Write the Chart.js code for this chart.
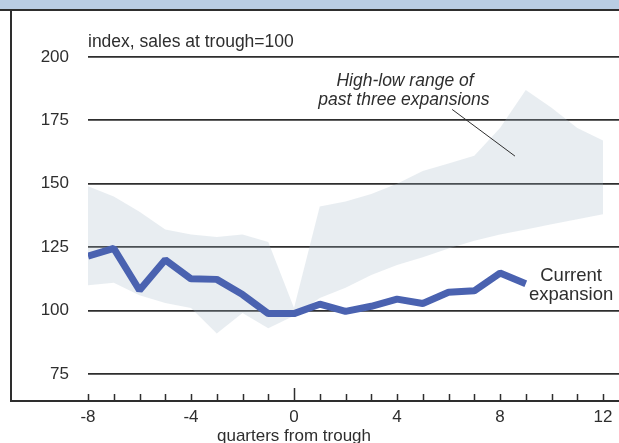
<!DOCTYPE html>
<html>
<head>
<meta charset="utf-8">
<script src="https://cdn.jsdelivr.net/npm/chart.js@4/dist/chart.umd.min.js"></script>
<style>
    html, body { margin: 0; padding: 0; background: #ffffff; }
    canvas { display: block; }
</style>
</head>
<body>
<canvas id="salesChart" width="619" height="443"></canvas>
<script>
// quarters from trough
const quarters = [-8, -7, -6, -5, -4, -3, -2, -1, 0, 1, 2, 3, 4, 5, 6, 7, 8, 9, 10, 11, 12];
// high-low range of past three expansions
const rangeHigh = [149, 145, 139, 132, 130, 129, 130, 127, 101, 141, 143, 146, 150, 155, 158, 161, 172, 187, 180, 172, 167];
const rangeLow = [110, 111, 106, 103, 101, 91, 99, 93, 98, 105, 109, 114, 118, 121, 124.5, 127.5, 130, 132, 134, 136, 138];
// current expansion (runs to quarter 9)
const currentSales = [121.5, 124.5, 108, 120, 112.5, 112.3, 106.3, 98.8, 98.8, 102.5, 99.7, 101.7, 104.5, 102.8, 107.2, 107.8, 114.8, 110.6];

const xTickValues = [-8, -4, 0, 4, 8, 12];
const yTickValues = [75, 100, 125, 150, 175, 200];

const inkColor = '#2e2e2e';
const font = '"Liberation Sans", Arial, Helvetica, sans-serif';

function toPoints(values) {
    return values.map(function (v, i) { return { x: quarters[i], y: v }; });
}

// frame, banner, inward tick marks and the text notes
const framePlugin = {
    id: 'frame',
    beforeDraw: function (chart) {
        const ctx = chart.ctx;
        const area = chart.chartArea;
        ctx.save();
        ctx.fillStyle = '#ffffff';
        ctx.fillRect(0, 0, chart.width, chart.height);
        ctx.fillStyle = '#b9cde4';
        ctx.fillRect(0, 0, chart.width, area.top - 1);
        ctx.strokeStyle = inkColor;
        ctx.lineWidth = 2;
        ctx.beginPath();
        ctx.moveTo(0, area.top);
        ctx.lineTo(chart.width, area.top);
        ctx.moveTo(11, area.top);
        ctx.lineTo(11, area.bottom);
        ctx.lineTo(chart.width, area.bottom);
        ctx.stroke();
        ctx.restore();
    },
    afterDraw: function (chart) {
        const ctx = chart.ctx;
        const area = chart.chartArea;
        const xs = chart.scales.x;
        const ys = chart.scales.y;
        ctx.save();
        ctx.strokeStyle = inkColor;
        ctx.lineWidth = 1.5;
        ctx.beginPath();
        for (let q = -8; q <= 12; q++) {
            const px = Math.round(xs.getPixelForValue(q)) + 0.5;
            ctx.moveTo(px, area.bottom);
            ctx.lineTo(px, area.bottom - (q === 0 ? 13 : 7));
        }
        ctx.stroke();

        ctx.fillStyle = inkColor;
        ctx.textBaseline = 'middle';
        ctx.font = '17.5px ' + font;
        ctx.textAlign = 'left';
        ctx.fillText('index, sales at trough=100', area.left, 42);

        ctx.textAlign = 'center';
        ctx.font = '17px ' + font;
        ctx.fillText('quarters from trough', xs.getPixelForValue(0), 436);
        ctx.font = '18.5px ' + font;
        ctx.fillText('Current', xs.getPixelForValue(10.76), ys.getPixelForValue(113.8));
        ctx.fillText('expansion', xs.getPixelForValue(10.76), ys.getPixelForValue(106.3));

        ctx.font = 'italic 17.5px ' + font;
        ctx.fillText('High-low range of', xs.getPixelForValue(4.31), ys.getPixelForValue(190.5));
        ctx.fillText('past three expansions', xs.getPixelForValue(4.27), ys.getPixelForValue(183));

        ctx.lineWidth = 1;
        ctx.beginPath();
        ctx.moveTo(xs.getPixelForValue(6.14), ys.getPixelForValue(179.3));
        ctx.lineTo(xs.getPixelForValue(8.58), ys.getPixelForValue(160.9));
        ctx.stroke();
        ctx.restore();
    }
};

new Chart(document.getElementById('salesChart'), {
    type: 'line',
    data: {
        datasets: [{
            label: 'High',
            data: toPoints(rangeHigh),
            order: 2,
            borderWidth: 0,
            pointRadius: 0,
            backgroundColor: 'rgba(165, 182, 198, 0.25)',
            fill: '+1',
            tension: 0
        }, {
            label: 'Low',
            data: toPoints(rangeLow),
            order: 3,
            borderWidth: 0,
            pointRadius: 0,
            fill: false,
            tension: 0
        }, {
            label: 'Current expansion',
            data: toPoints(currentSales),
            order: 0,
            borderColor: '#4a62b0',
            borderWidth: 7,
            borderJoinStyle: 'bevel',
            pointRadius: 0,
            fill: false,
            tension: 0
        }]
    },
    options: {
        responsive: false,
        animation: false,
        devicePixelRatio: 1,
        layout: { padding: { top: 10, right: 0, left: 0, bottom: 0 } },
        plugins: {
            legend: { display: false },
            tooltip: { enabled: false }
        },
        scales: {
            x: {
                type: 'linear',
                min: -8,
                max: 12.62,
                afterFit: function (scale) {
                    scale.height = 42;
                    scale.paddingLeft = 0;
                    scale.paddingRight = 0;
                },
                afterBuildTicks: function (scale) {
                    scale.ticks = xTickValues.map(function (v) { return { value: v }; });
                },
                grid: { display: false, drawTicks: false },
                border: { display: false },
                ticks: {
                    autoSkip: false,
                    maxRotation: 0,
                    padding: 6,
                    color: inkColor,
                    font: { family: font, size: 17 }
                }
            },
            y: {
                min: 64.35,
                max: 218.5,
                afterFit: function (scale) {
                    scale.width = 88;
                    scale.paddingTop = 0;
                    scale.paddingBottom = 0;
                },
                afterBuildTicks: function (scale) {
                    scale.ticks = yTickValues.map(function (v) { return { value: v }; });
                },
                grid: { color: inkColor, lineWidth: 1.8, drawTicks: false },
                border: { display: false },
                ticks: {
                    padding: 19,
                    color: inkColor,
                    font: { family: font, size: 17 }
                }
            }
        }
    },
    plugins: [framePlugin]
});
</script>
</body>
</html>
